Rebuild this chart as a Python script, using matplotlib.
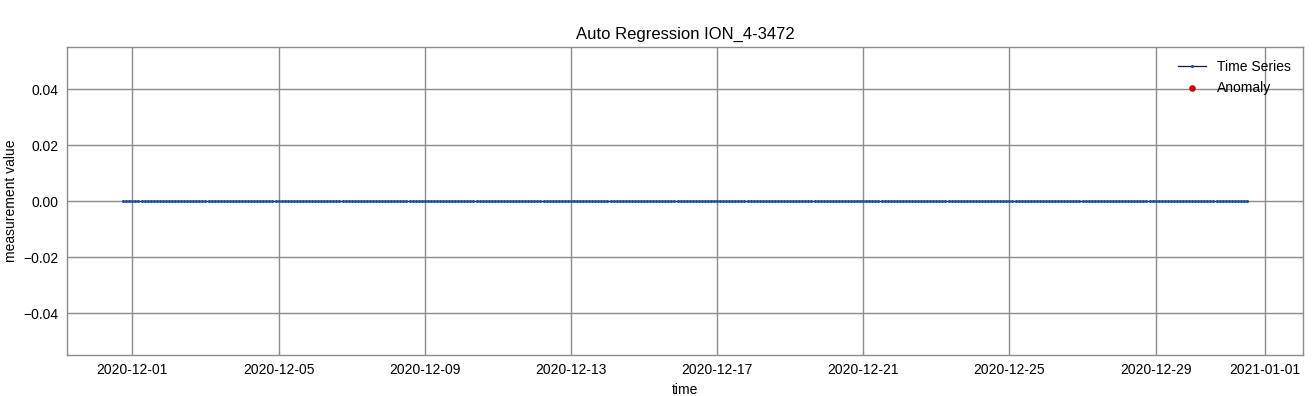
import matplotlib
matplotlib.use('Agg')
import matplotlib.pyplot as plt
import matplotlib.dates as mdates
import numpy as np
import pandas as pd

plt.rcParams['font.family'] = ['Liberation Sans', 'DejaVu Sans']

# measurement every 2 hours, all zero; no anomalies detected
times = pd.date_range('2020-11-30 18:00', '2020-12-31 12:00', freq='2h')
values = np.zeros(len(times))
anomaly_times = pd.to_datetime([])
anomaly_values = np.array([])

fig, ax = plt.subplots(figsize=(13.15, 3.96), dpi=100)
fig.subplots_adjust(left=0.051, right=0.991, top=0.881, bottom=0.1035)

ax.plot(times, values, color='#0a1a45', linewidth=0.9, marker='.', markersize=2.5,
        markerfacecolor='#1f4f9f', markeredgecolor='#1f4f9f', label='Time Series')
ax.scatter(anomaly_times, anomaly_values, color='#d40000', s=14, label='Anomaly')

ax.set_facecolor('white')
ax.grid(True, color='#8c8c8c', linewidth=1)
for s in ax.spines.values():
    s.set_color('#8c8c8c')
    s.set_linewidth(1)
ax.tick_params(length=0, labelsize=10, pad=6)

ax.xaxis.set_major_locator(mdates.DayLocator(bymonthday=[1, 5, 9, 13, 17, 21, 25, 29]))
ax.xaxis.set_major_formatter(mdates.DateFormatter('%Y-%m-%d'))

ax.set_title('Auto Regression ION_4-3472', fontsize=12)
ax.set_xlabel('time', fontsize=10)
ax.set_ylabel('measurement value', fontsize=10)
ax.legend(loc='upper right', frameon=False, fontsize=10)

fig.savefig('out.png')
